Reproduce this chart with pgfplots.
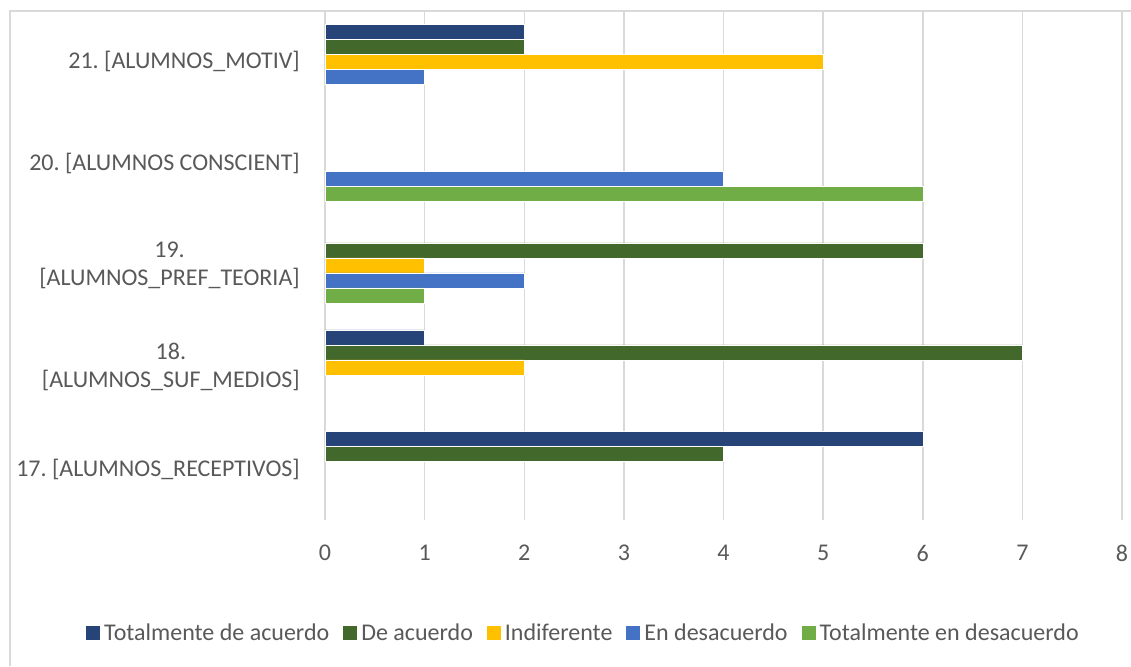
\documentclass[border=0pt]{standalone}
\usepackage{pgfplots}
\pgfplotsset{compat=1.18}
\usepackage{fontspec}
\setmainfont{Carlito}
\frenchspacing
\definecolor{txt}{HTML}{595959}
\definecolor{gridc}{HTML}{D9D9D9}
\definecolor{sTdA}{HTML}{264478}
\definecolor{sDA}{HTML}{43682B}
\definecolor{sInd}{HTML}{FFC000}
\definecolor{sEnD}{HTML}{4472C4}
\definecolor{sTeD}{HTML}{70AD47}
\newcommand{\lblfont}{\fontsize{24}{28}\selectfont}
\begin{document}
\begin{tikzpicture}[x=1pt,y=1pt]
\useasboundingbox (0,0) rectangle (1131,666);
\fill[white] (0,0) rectangle (1131,666);
% chart frame
\draw[gridc, line width=1.5pt] (10,0) -- (10,655) -- (1131,655);
\begin{axis}[
  at={(325pt,146pt)}, anchor=south west,
  scale only axis, width=797pt, height=509pt,
  xbar, bar width=15pt,
  xmin=0, xmax=8, ymin=-0.5, ymax=4.5,
  enlargelimits=false,
  xtick={0,...,8},
  ytick={0,1,2,3,4},
  yticklabels={{17. [ALUMNOS\_RECEPTIVOS]},{18.\\{}[ALUMNOS\_SUF\_MEDIOS]},{19.\\{}[ALUMNOS\_PREF\_TEORIA]},{20. [ALUMNOS CONSCIENT]},{21. [ALUMNOS\_MOTIV]}},
  /pgf/number format/assume math mode=true,
  xmajorgrids, ymajorgrids=false,
  grid style={gridc, line width=1.5pt},
  axis line style={draw=none},
  major tick length=0pt,
  tick style={draw=none},
  xticklabel style={font=\lblfont, text=txt, inner sep=0pt, anchor=north, yshift=-25pt},
  yticklabel style={font=\lblfont, text=txt, inner sep=0pt, anchor=east, align=center, xshift=-25pt},
  legend columns=5,
  legend style={at={(0.323,-0.222)}, anchor=center, draw=none, fill=none,
    font=\lblfont, text=txt, inner sep=0pt,
    nodes={inner sep=0pt, anchor=west},
    /tikz/every even column/.append style={column sep=14pt},
    /tikz/every odd column/.append style={column sep=4pt}},
  legend image code/.code={\fill[#1, draw=none] (0pt,-7pt) rectangle (14pt,7pt);},
  every axis plot/.append style={draw=white, line width=0.4pt},
]
\addplot[fill=sTdA, bar shift=30pt] coordinates {(6,0) (1,1) (2,4)};
\addlegendentry{Totalmente de acuerdo}
\addplot[fill=sDA, bar shift=15pt] coordinates {(4,0) (7,1) (6,2) (2,4)};
\addlegendentry{De acuerdo}
\addplot[fill=sInd, bar shift=0pt] coordinates {(2,1) (1,2) (5,4)};
\addlegendentry{Indiferente}
\addplot[fill=sEnD, bar shift=-15pt] coordinates {(2,2) (4,3) (1,4)};
\addlegendentry{En desacuerdo}
\addplot[fill=sTeD, bar shift=-30pt] coordinates {(1,2) (6,3)};
\addlegendentry{Totalmente en desacuerdo}
\end{axis}
\end{tikzpicture}
\end{document}
